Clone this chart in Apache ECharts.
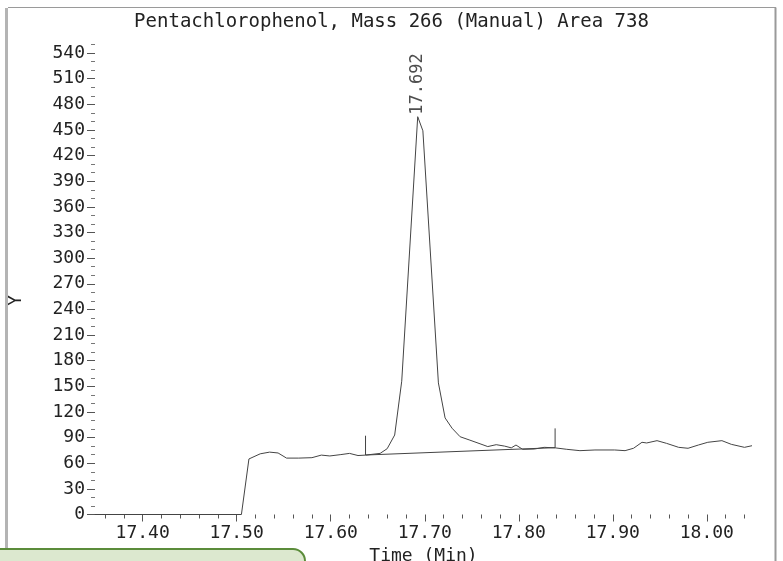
<!DOCTYPE html>
<html>
<head>
<meta charset="utf-8">
<script src="https://cdn.jsdelivr.net/npm/echarts@6/dist/echarts.min.js"></script>
<style>
  html, body { margin: 0; padding: 0; background: #fff; }
  #chart { width: 783px; height: 561px; }
</style>
</head>
<body>
<div id="chart"></div>
<script>
// ion trace: [time (min), abundance]
const trace = [
  [17.349, 0], [17.505, 0], [17.513, 65], [17.525, 71], [17.535, 73], [17.544, 72],
  [17.553, 66], [17.566, 66], [17.580, 66.5], [17.590, 69.5], [17.599, 68.5], [17.610, 70],
  [17.620, 71.5], [17.629, 69], [17.637, 69.5], [17.6525, 71.5], [17.660, 77], [17.668, 93],
  [17.6755, 156], [17.6925, 465.5], [17.698, 449], [17.7145, 154], [17.7216, 113], [17.729, 101],
  [17.7376, 91], [17.748, 87], [17.767, 79.5], [17.776, 81.7], [17.785, 80], [17.792, 78],
  [17.797, 81.3], [17.804, 76.3], [17.8165, 76.6], [17.827, 78.6], [17.8386, 78], [17.851, 76.3],
  [17.865, 74.7], [17.881, 75.5], [17.902, 75.5], [17.913, 74.7], [17.922, 77.5], [17.931, 84.5],
  [17.936, 83.7], [17.947, 86.4], [17.957, 83.3], [17.970, 78.6], [17.980, 77.5], [17.991, 81.3],
  [18.001, 84.5], [18.016, 86.4], [18.026, 82.1], [18.040, 78.6], [18.048, 80.5]
];

// integration baseline and its start / end markers
const baseline = [[17.637, 69.6], [17.8386, 78.2]];
const startMark = [[17.637, 69.6], [17.637, 92.2]];
const endMark = [[17.8386, 78], [17.8386, 100.8]];

const peakTime = 17.692;
const peakIndex = 19;

const xMajor = [17.40, 17.50, 17.60, 17.70, 17.80, 17.90, 18.00];
const xMinor = [17.36, 17.38, 17.42, 17.44, 17.46, 17.48, 17.52, 17.54, 17.56, 17.58,
  17.62, 17.64, 17.66, 17.68, 17.72, 17.74, 17.76, 17.78, 17.82, 17.84, 17.86, 17.88,
  17.92, 17.94, 17.96, 17.98, 18.02, 18.04];
const yMajor = [0, 30, 60, 90, 120, 150, 180, 210, 240, 270, 300, 330, 360, 390, 420, 450, 480, 510, 540];
const yMinor = [10, 20, 40, 50, 70, 80, 100, 110, 130, 140, 160, 170, 190, 200, 220, 230, 250, 260,
  280, 290, 310, 320, 340, 350, 370, 380, 400, 410, 430, 440, 460, 470, 490, 500, 520, 530, 550];

const font = 'DejaVu Sans Mono';
const ink = '#222';
const lineColor = '#444';

const chart = echarts.init(document.getElementById('chart'));

function markSeries(data) {
  return {
    type: 'line',
    data: data,
    symbol: 'none',
    silent: true,
    lineStyle: { color: lineColor, width: 1 }
  };
}

chart.setOption({
  animation: false,
  title: {
    text: 'Pentachlorophenol, Mass 266 (Manual) Area 738',
    left: 'center',
    top: 8,
    textStyle: { fontFamily: font, fontSize: 19, fontWeight: 'normal', color: ink }
  },
  grid: { left: 95, right: 31, top: 44.5, bottom: 46.5, outerBoundsMode: 'none', containLabel: false },
  xAxis: [{
    type: 'value',
    min: 17.3493,
    max: 18.048,
    name: 'Time (Min)',
    nameLocation: 'middle',
    nameGap: 27,
    nameTextStyle: { fontFamily: font, fontSize: 18, color: ink },
    axisLine: { show: false, onZero: false },
    axisTick: { show: true, customValues: xMajor, length: 7, lineStyle: { color: '#555' } },
    axisLabel: {
      customValues: xMajor, margin: 10,
      formatter: v => v.toFixed(2),
      fontFamily: font, fontSize: 18, color: ink
    },
    splitLine: { show: false }
  }, {
    type: 'value',
    min: 17.3493,
    max: 18.048,
    position: 'bottom',
    axisLine: { show: false, onZero: false },
    axisTick: { show: true, customValues: xMinor, length: 4, lineStyle: { color: '#555' } },
    axisLabel: { show: false },
    splitLine: { show: false }
  }],
  yAxis: [{
    type: 'value',
    min: 0,
    max: 550,
    position: 'left',
    name: 'Y',
    nameLocation: 'middle',
    nameGap: 70,
    nameRotate: 90,
    nameTextStyle: { fontFamily: font, fontSize: 17, color: ink, padding: [0, 42, 0, 0] },
    axisLine: { show: false },
    axisTick: { show: true, customValues: yMajor, length: 8, lineStyle: { color: '#555' } },
    axisLabel: { customValues: yMajor, margin: 10, fontFamily: font, fontSize: 18, color: ink },
    splitLine: { show: false }
  }, {
    type: 'value',
    min: 0,
    max: 550,
    position: 'left',
    axisLine: { show: false },
    axisTick: { show: true, customValues: yMinor, length: 4, lineStyle: { color: '#777' } },
    axisLabel: { show: false },
    splitLine: { show: false }
  }],
  series: [{
    type: 'line',
    data: trace,
    symbol: 'none',
    lineStyle: { color: lineColor, width: 1 }
  },
  markSeries(baseline),
  markSeries(startMark),
  markSeries(endMark),
  {
    // retention time label at the apex
    type: 'scatter',
    data: [trace[peakIndex]],
    symbolSize: 0,
    silent: true,
    label: {
      show: true,
      position: 'top',
      distance: 2,
      rotate: 90,
      align: 'left',
      verticalAlign: 'middle',
      formatter: peakTime.toFixed(3),
      fontFamily: font,
      fontSize: 17,
      color: ink
    }
  }],
  graphic: [
    { type: 'rect', shape: { x: 5, y: 8, width: 3, height: 545 }, style: { fill: '#b4b4b4' } },
    { type: 'line', shape: { x1: 8, y1: 7.5, x2: 776, y2: 7.5 }, style: { stroke: '#9a9a9a', lineWidth: 1 } },
    { type: 'line', shape: { x1: 775.5, y1: 7.5, x2: 775.5, y2: 561 }, style: { stroke: '#9a9a9a', lineWidth: 2 } },
    {
      type: 'rect',
      shape: { x: -12, y: 549, width: 317, height: 30, r: 12 },
      style: { fill: '#dce8cf', stroke: '#5b8c3a', lineWidth: 2 }
    }
  ]
});
</script>
</body>
</html>
